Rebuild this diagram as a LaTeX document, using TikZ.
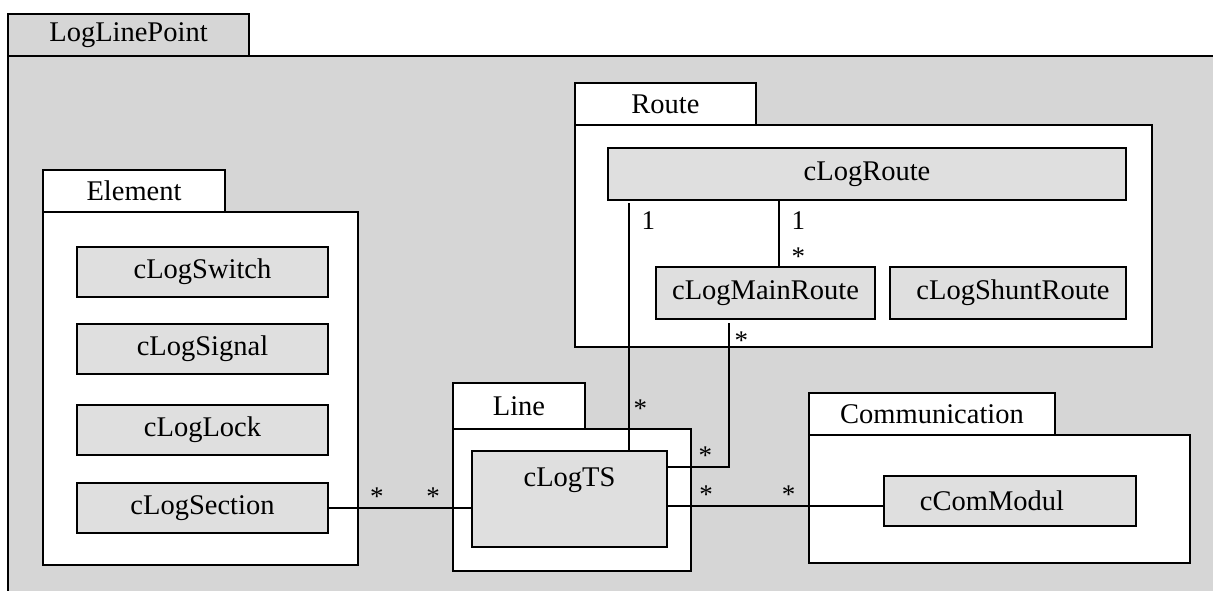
\documentclass[tikz,border=0pt]{standalone}
\usepackage{fontspec}
\setmainfont{Liberation Serif}
\usetikzlibrary{positioning}
\definecolor{pkggray}{RGB}{214,214,214}
\definecolor{clsgray}{RGB}{223,223,223}

\tikzset{
  box/.style={draw, line width=1.6pt, anchor=north west, inner sep=0pt, outer sep=0pt},
  pkgtab/.style={box, fill=white, minimum height=42pt},
  pkgbody/.style={box, fill=white},
  cls/.style={box, fill=clsgray, minimum height=50pt},
  assoc/.style={line width=1.4pt},
  mult/.style={inner sep=2pt, font=\fontsize{27}{30}\selectfont}
}

\begin{document}
\begin{tikzpicture}[x=1pt, y=-1pt, font=\fontsize{28.5}{33}\selectfont]
  \useasboundingbox (0,0) rectangle (1213,590);
  \clip (0,0) rectangle (1213,590);

  % outer package
  \node[pkgbody, fill=pkggray, minimum width=1240pt, minimum height=560pt] (llpbody) at (8,56) {};
  \node[pkgtab, fill=pkggray, minimum width=241pt] (llp) at (8,14) {LogLinePoint};

  % Element
  \node[pkgbody, minimum width=315pt, minimum height=353pt] (elembody) at (43,212) {};
  \node[pkgtab, minimum width=182pt] (elem) at (43,170) {Element};
  \node[cls, minimum width=251pt] (clogswitch) at (77,247) {cLogSwitch};
  \node[cls, minimum width=251pt] (clogsignal) at (77,324) {cLogSignal};
  \node[cls, minimum width=251pt] (cloglock) at (77,405) {cLogLock};
  \node[cls, minimum width=251pt] (clogsection) at (77,483) {cLogSection};

  % Route
  \node[pkgbody, minimum width=577pt, minimum height=222pt] (routebody) at (575,125) {};
  \node[pkgtab, minimum width=181pt] (route) at (575,83) {Route};
  \node[cls, minimum width=518pt, minimum height=52pt] (clogroute) at (608,148) {cLogRoute};
  \node[cls, minimum width=219pt, minimum height=52pt] (clogmainroute) at (656,267) {cLogMainRoute};
  \node[cls, minimum width=236pt, minimum height=52pt] (clogshuntroute) at (890,267) {\hspace*{10pt}cLogShuntRoute};

  % Line
  \node[pkgbody, minimum width=238pt, minimum height=142pt] (linebody) at (453,429) {};
  \node[pkgtab, minimum width=132pt, minimum height=46pt] (line) at (453,383) {Line};
  \node[cls, minimum width=195pt, minimum height=96pt,
        label={[anchor=north, yshift=-13pt]north:cLogTS}] (clogts) at (472,451) {};

  % Communication
  \node[pkgbody, minimum width=381pt, minimum height=128pt] (commbody) at (809,435) {};
  \node[pkgtab, minimum width=246pt] (comm) at (809,393) {Communication};
  \node[cls, minimum width=252pt] (ccommodul) at (884,476) {cComModul\hspace*{36pt}};

  % associations
  \draw[assoc] (clogsection.east) -- (clogsection.east -| clogts.west)
    node[mult, pos=0.34, above] {*} node[mult, pos=0.73, above] {*};
  \draw[assoc] ([yshift=-5pt]ccommodul.west -| clogts.east) -- ([yshift=-5pt]ccommodul.west)
    node[mult, pos=0.18, above] {*} node[mult, pos=0.56, above] {*};
  \draw[assoc] ([xshift=21pt, yshift=-3pt]clogroute.south west) -- ([xshift=21pt]clogroute.south west |- clogts.north)
    node[mult, pos=0.07, right=10pt] {1} node[mult, pos=0.83, right=2pt] {*};
  \draw[assoc] ([xshift=123pt]clogmainroute.north west) -- ([xshift=123pt]clogmainroute.north west |- clogroute.south)
    node[mult, pos=0.15, right=10pt] {*} node[mult, pos=0.7, right=10pt] {1};
  \draw[assoc] ([xshift=73pt, yshift=-4pt]clogmainroute.south west) |- ([yshift=-16pt]clogts.north east)
    node[mult, pos=0.06, right=3pt] {*} node[mult, pos=0.69, above] {*};
\end{tikzpicture}
\end{document}
